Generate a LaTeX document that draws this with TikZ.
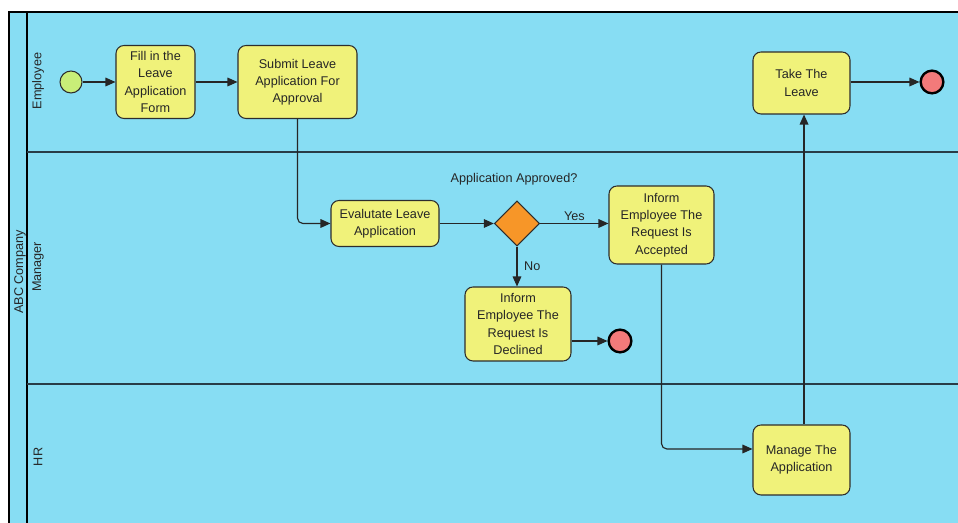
\documentclass[tikz,border=0pt]{standalone}
\usepackage{fontspec}
\setmainfont{Liberation Sans}
\usetikzlibrary{arrows.meta,shapes.geometric}
\definecolor{lanec}{RGB}{135,221,243}
\definecolor{taskc}{RGB}{240,242,122}
\definecolor{startc}{RGB}{200,238,120}
\definecolor{endc}{RGB}{243,122,122}
\definecolor{gatec}{RGB}{247,150,40}
\definecolor{edgec}{RGB}{45,45,45}
\definecolor{linec}{RGB}{40,60,70}
\begin{document}
\begin{tikzpicture}[x=0.75pt,y=-0.75pt,
  taskbox/.style={draw=edgec,fill=taskc,rounded corners=6pt,line width=0.8pt,align=center,inner sep=0pt,font=\fontsize{9.5}{12.9}\selectfont,text=black!85},
  flow/.style={draw=black!85,line width=0.85pt,-{Triangle[length=7.5pt,width=6.5pt]}},
  lbl/.style={font=\fontsize{9.5}{11}\selectfont,text=black!85,inner sep=1pt},
  startev/.style={circle,draw=edgec,fill=startc,line width=0.8pt,minimum size=16.5pt,inner sep=0pt},
  endev/.style={circle,draw=black,fill=endc,line width=1.8pt,minimum size=17pt,inner sep=0pt},
  gateway/.style={diamond,draw=edgec,fill=gatec,line width=0.8pt,minimum size=34pt,inner sep=0pt}]
\useasboundingbox (0,0) rectangle (958,523);
\fill[white] (0,0) rectangle (958,523);
\begin{scope}
\clip (0,0) rectangle (958,523);
\fill[lanec] (9,12) rectangle (970,540);
\draw[black,line width=0.9pt] (970,12) -- (9,12) -- (9,540);
\draw[black,line width=1.5pt] (27,12) -- (27,540);
\draw[linec,line width=1pt] (27,152) -- (970,152);
\draw[linec,line width=1pt] (27,384) -- (970,384);
\end{scope}
% lane labels
\node[lbl,rotate=90] (pool) at (20,272) {ABC Company};
\node[lbl,rotate=90] (lemp) at (38,81) {Employee};
\node[lbl,rotate=90] (lman) at (38,267) {Manager};
\node[lbl,rotate=90] (lhr) at (38,457) {HR};
% events and tasks
\node[startev] (start) at (71,82) {};
\node[taskbox,minimum width=59.25pt,minimum height=54.75pt] (fill) at (155.5,82) {Fill in the\\Leave\\Application\\Form};
\node[taskbox,minimum width=89.25pt,minimum height=54.75pt] (sub) at (297.5,82) {Submit Leave\\Application For\\Approval};
\node[taskbox,minimum width=81pt,minimum height=34.5pt] (eval) at (385,223.5) {Evalutate Leave\\Application};
\node[gateway] (gate) at (517,223.5) {};
\node[lbl] (gq) at (514,179) {Application Approved?};
\node[taskbox,minimum width=78.75pt,minimum height=58.5pt] (acc) at (661.5,225) {Inform\\Employee The\\Request Is\\Accepted};
\node[taskbox,minimum width=79.5pt,minimum height=55.5pt] (dec) at (518,324) {Inform\\Employee The\\Request Is\\Declined};
\node[endev] (end1) at (620,341) {};
\node[taskbox,minimum width=72.75pt,minimum height=46.5pt] (take) at (801.5,83) {Take The\\Leave};
\node[endev] (end2) at (932,82) {};
\node[taskbox,minimum width=72.75pt,minimum height=52.5pt] (man) at (801.5,460) {Manage The\\Application};
% flows
\draw[flow] (start) -- (fill);
\draw[flow] (fill) -- (sub);
\draw[flow,rounded corners=4pt] (sub.south) |- (eval.west);
\draw[flow] (eval.east) -- (gate.west);
\draw[flow] (gate.east) -- (gate.east -| acc.west) node[lbl,midway,above=1pt] (yes) {Yes};
\draw[flow] (gate.south) -- (gate.south |- dec.north) node[lbl,midway,right=4pt] (no) {No};
\draw[flow] ([yshift=-12.75pt]dec.east) -- (end1.west);
\draw[flow,rounded corners=4pt] (acc.south) |- ([yshift=8.25pt]man.west);
\draw[flow] ([xshift=1.9pt]man.north) -- ([xshift=1.9pt]take.south);
\draw[flow] (take.east |- end2) -- (end2.west);
\end{tikzpicture}
\end{document}
